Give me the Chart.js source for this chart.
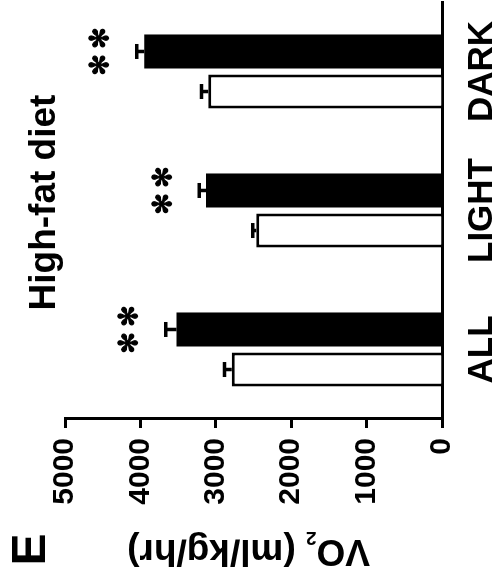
<!DOCTYPE html>
<html>
<head>
<meta charset="utf-8">
<script src="https://cdn.jsdelivr.net/npm/chart.js@4"></script>
<style>
  html, body { margin: 0; padding: 0; background: #fff; overflow: hidden; }
  /* the figure is laid out upright, then turned a quarter turn counter-clockwise */
  #wrap {
    position: absolute; left: -41px; top: 41px;
    width: 584px; height: 502px;
    transform: rotate(-90deg); transform-origin: 50% 50%;
  }
</style>
</head>
<body>
<div id="wrap"><canvas id="c" width="584" height="502"></canvas></div>
<script>
// VO2 by period, high-fat diet
const categories   = ['ALL', 'LIGHT', 'DARK'];
const openMeans    = [2790, 2465, 3100];
const openErr      = [95, 45, 88];
const filledMeans  = [3520, 3130, 3950];
const filledErr    = [145, 90, 100];
const filledMarks  = ['**', '**', '**'];
const valueTicks   = [0, 1000, 2000, 3000, 4000, 5000];
const panelLetter  = 'E';
const panelTitle   = 'High-fat diet';

const FONT = '"Liberation Sans", Arial, Helvetica, sans-serif';
Chart.defaults.font.family = FONT;
Chart.defaults.color = '#000';

// error bars, significance stars, panel letter, title and the value-axis label
const annotations = {
  id: 'annotations',
  afterDatasetsDraw(chart) {
    const ctx = chart.ctx;
    const ys = chart.scales.y;
    const area = chart.chartArea;
    const errs = [openErr, filledErr];

    chart.data.datasets.forEach((ds, i) => {
      chart.getDatasetMeta(i).data.forEach((bar, j) => {
        const top = ys.getPixelForValue(ds.data[j]);
        const end = ys.getPixelForValue(ds.data[j] + errs[i][j]);
        ctx.save();
        ctx.strokeStyle = '#000';
        ctx.lineWidth = 3.5;
        ctx.beginPath();
        ctx.moveTo(bar.x, top); ctx.lineTo(bar.x, end);
        ctx.moveTo(bar.x - 7.5, end); ctx.lineTo(bar.x + 7.5, end);
        ctx.stroke();
        ctx.restore();

        if (i === 1 && filledMarks[j]) {
          const n = filledMarks[j].length;
          ctx.save();
          ctx.fillStyle = '#000';
          ctx.strokeStyle = '#000';
          ctx.lineWidth = 1.2;
          ctx.lineJoin = 'round';
          ctx.font = '26px "DejaVu Sans", sans-serif';
          ctx.textAlign = 'center';
          ctx.textBaseline = 'middle';
          for (let k = 0; k < n; k++) {
            const sx = bar.x + (k - (n - 1) / 2) * 26.6, sy = end - 35;
            ctx.fillText('\u273B', sx, sy);
            ctx.strokeText('\u273B', sx, sy);
          }
          ctx.restore();
        }
      });
    });

    ctx.save();
    ctx.fillStyle = '#000';
    ctx.textBaseline = 'alphabetic';

    // panel letter
    ctx.font = 'bold 48px ' + FONT;
    ctx.textAlign = 'left';
    ctx.fillText(panelLetter, 18.5, 44.5);

    // panel title
    ctx.font = 'bold 37px ' + FONT;
    ctx.textAlign = 'center';
    ctx.fillText(panelTitle, (area.left + area.right) / 2 + 8, 54.5);

    // value-axis label with subscript
    const big = 'bold 37px ' + FONT, small = 'bold 19px ' + FONT;
    const p1 = 'VO', p2 = '2', p3 = ' (ml/kg/hr)';
    ctx.font = big;   const w1 = ctx.measureText(p1).width, w3 = ctx.measureText(p3).width;
    ctx.font = small; const w2 = ctx.measureText(p2).width;
    const W = w1 + w2 + w3;
    ctx.translate(44, (area.top + area.bottom) / 2 - 5);
    ctx.rotate(-Math.PI / 2);
    ctx.textAlign = 'left';
    let x = -W / 2;
    ctx.font = big;   ctx.fillText(p1, x, 0); x += w1;
    ctx.font = small; ctx.fillText(p2, x, 8); x += w2;
    ctx.font = big;   ctx.fillText(p3, x, 0);
    ctx.restore();
  }
};

new Chart(document.getElementById('c'), {
  type: 'bar',
  data: {
    labels: categories,
    datasets: [
      {
        label: 'open',
        data: openMeans,
        backgroundColor: '#fff',
        borderColor: '#000',
        borderWidth: 3,
        borderSkipped: 'start'
      },
      {
        label: 'filled',
        data: filledMeans,
        backgroundColor: '#000',
        borderColor: '#000',
        borderWidth: 0
      }
    ]
  },
  options: {
    responsive: false,
    animation: false,
    devicePixelRatio: 1,
    categoryPercentage: 0.576,
    barPercentage: 0.85,
    layout: { padding: { left: 0, right: 2, top: 65, bottom: 0 } },
    plugins: { legend: { display: false }, tooltip: { enabled: false }, title: { display: false } },
    scales: {
      x: {
        grid: { display: false, drawTicks: false },
        border: { display: true, color: '#000', width: 3 },
        ticks: { font: { size: 35, weight: 'bold' }, color: '#000', padding: 19, maxRotation: 0 },
        afterFit(scale) { scale.height = 60; }
      },
      y: {
        min: 0,
        max: 5000,
        afterBuildTicks(scale) { scale.ticks = valueTicks.map(v => ({ value: v })); },
        grid: { drawOnChartArea: false, drawTicks: true, tickLength: 9, tickWidth: 3, tickColor: '#000' },
        border: { display: true, color: '#000', width: 3 },
        ticks: {
          font: { size: 30, weight: 'bold' }, color: '#000', padding: 10,
          callback: v => String(v)
        },
        afterFit(scale) { scale.width = 165; }
      }
    }
  },
  plugins: [annotations]
});
</script>
</body>
</html>
